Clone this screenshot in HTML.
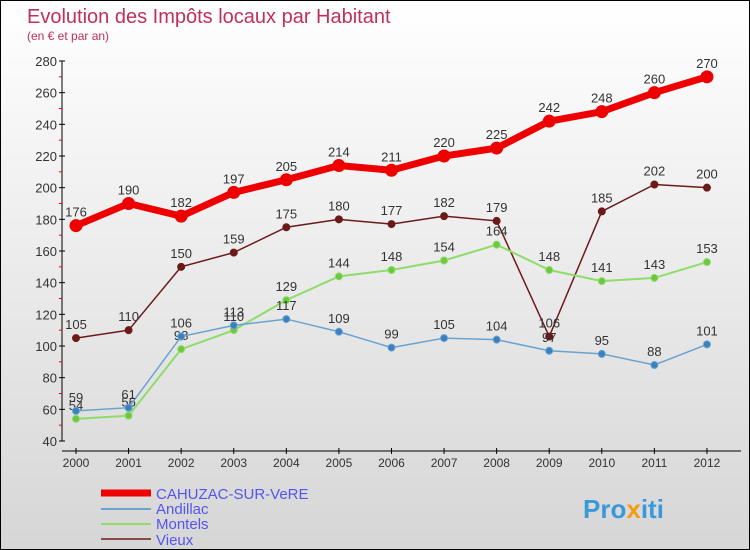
<!DOCTYPE html>
<html><head><meta charset="utf-8"><style>
body{margin:0}
#c{width:750px;height:550px;position:relative;box-sizing:border-box;border:1px solid #000;background:linear-gradient(#ffffff,#d6d6d6);font-family:"Liberation Sans",sans-serif;overflow:hidden}
</style></head><body>
<div id="c">
<svg id="s" width="750" height="550" style="position:absolute;left:0;top:0">
<text x="26" y="22" font-size="20" fill="#c0305a">Evolution des Impôts locaux par Habitant</text>
<text x="26" y="39" font-size="12" fill="#c0305a">(en € et par an)</text>
<g id="axes"></g><g id="series"></g>
<g font-size="15" fill="#5555ee">
<line x1="100" y1="492" x2="150" y2="492" stroke="#e00" stroke-width="7"/>
<text x="155" y="498">CAHUZAC-SUR-VeRE</text>
<line x1="100" y1="508" x2="150" y2="508" stroke="#6aa3d0" stroke-width="2"/>
<text x="155" y="513">Andillac</text>
<line x1="100" y1="523" x2="150" y2="523" stroke="#8fdc6a" stroke-width="2"/>
<text x="155" y="528">Montels</text>
<line x1="100" y1="538" x2="150" y2="538" stroke="#8b4a4a" stroke-width="2"/>
<text x="155" y="544">Vieux</text>
</g>
<text x="582" y="517" font-size="26" font-weight="bold" fill="#3a9ad9">Pro<tspan fill="#f39c12">x</tspan>iti</text>
</svg>
</div>
<script>
const years=[2000,2001,2002,2003,2004,2005,2006,2007,2008,2009,2010,2011,2012];
const yTicks=[40,60,80,100,120,140,160,180,200,220,240,260,280];
const cahuzac=[176,190,182,197,205,214,211,220,225,242,248,260,270];
const andillac=[59,61,106,113,117,109,99,105,104,97,95,88,101];
const montels=[54,56,98,110,129,144,148,154,164,148,141,143,153];
const vieux=[105,110,150,159,175,180,177,182,179,106,185,202,200];
const NS="http://www.w3.org/2000/svg";
const X=i=>75+i*52.58, Y=v=>440-(v-40)*380/240;
function mk(t,a,p){const e=document.createElementNS(NS,t);for(const k in a)e.setAttribute(k,a[k]);p.appendChild(e);return e;}
const ax=document.getElementById('axes'), se=document.getElementById('series');
let e=mk('line',{x1:61,y1:Y(280),x2:61,y2:440,stroke:'#000'},ax);


e=mk('line',{x1:61,y1:450,x2:740,y2:450,stroke:'#000'},ax);


yTicks.forEach((v,i)=>{
 mk('line',{x1:58,y1:Y(v),x2:64,y2:Y(v),stroke:'#000'},ax);
 if(i<yTicks.length-1)mk('line',{x1:58,y1:Y(v+10),x2:61,y2:Y(v+10),stroke:'#f00'},ax);
 const t=mk('text',{x:56,y:Y(v)+5,'font-size':13,'text-anchor':'end',fill:'#333'},ax);t.textContent=v;
 
 
});
years.forEach((y,i)=>{
 mk('line',{x1:X(i),y1:447,x2:X(i),y2:453,stroke:'#000'},ax);
 const t=mk('text',{x:X(i),y:466,'font-size':12,'text-anchor':'middle',fill:'#333'},ax);t.textContent=y;
 
 
});
function series(d,name,col,fill,w,r){
 const g=mk('g',{},se);
 
 
 const l=mk('polyline',{points:d.map((v,i)=>X(i)+','+Y(v)).join(' '),fill:'none',stroke:col,'stroke-width':w},g);
 
 
 d.forEach((v,i)=>{
  const c=mk('circle',{cx:X(i),cy:Y(v),r:r,fill:fill,stroke:col,'stroke-width':1},g);
  
  
  const t=mk('text',{x:X(i),y:Y(v)-9,'font-size':13,'text-anchor':'middle',fill:'#333'},g);t.textContent=v;
  
  
 });
}
series(vieux,'vieux','#6b1a1a','#6b1a1a',1.5,3.5);
series(montels,'montels','#8fdc6a','#6cc840',2,3.5);
series(andillac,'andillac','#6aa3d0','#3a80c0',1.5,3.5);
series(cahuzac,'cahuzac','#ee0000','#ee0000',7,6);
</script>
</body></html>
